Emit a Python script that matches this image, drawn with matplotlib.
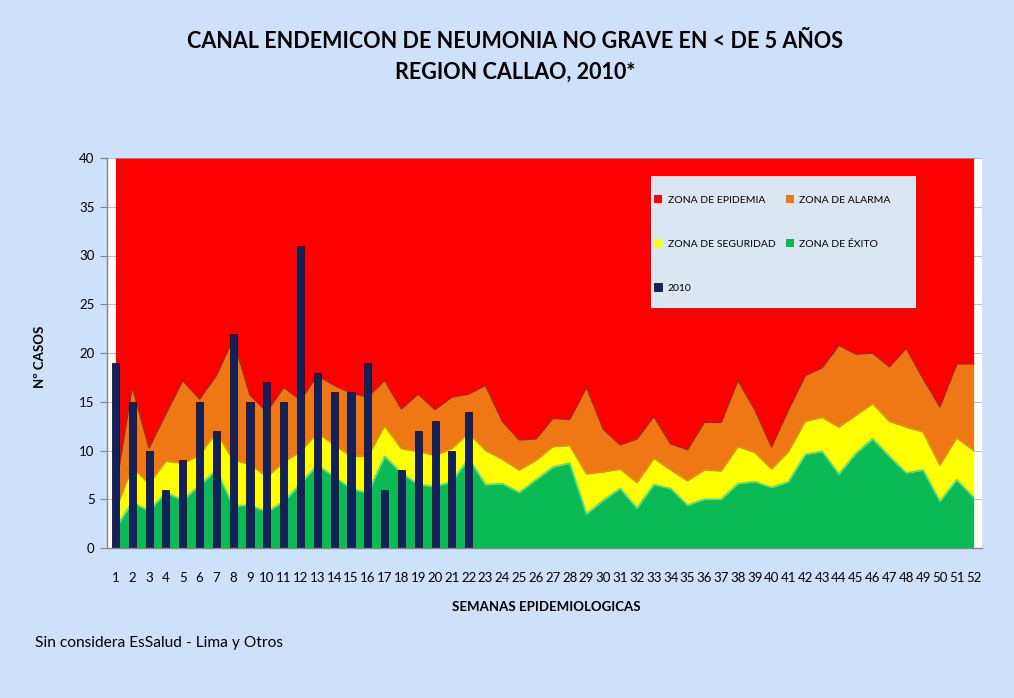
import numpy as np
import matplotlib
matplotlib.use('Agg')
import matplotlib.pyplot as plt
from matplotlib.patches import Rectangle

plt.rcParams['font.family'] = ['Lato', 'DejaVu Sans']

# semanas epidemiologicas
weeks = np.arange(1, 53)

# limites superiores de cada zona (acumulados)
exito = [2.0, 4.7, 3.8, 5.7, 4.9, 6.4, 8.0, 4.3, 4.4, 3.7, 4.75, 6.6, 8.5, 7.3, 6.1, 5.6, 9.4, 7.7,
         6.5, 6.3, 6.8, 9.2, 6.5, 6.6, 5.7, 7.0, 8.3, 8.7, 3.5, 4.9, 6.1, 4.1, 6.5, 6.1, 4.4, 5.0,
         5.0, 6.6, 6.8, 6.2, 6.8, 9.6, 9.9, 7.6, 9.7, 11.2, 9.4, 7.7, 8.0, 4.8, 7.0, 5.2]
seguridad = [3.8, 8.3, 6.6, 8.9, 8.7, 9.5, 11.9, 9.0, 8.6, 7.3, 8.8, 9.9, 11.8, 10.6, 9.4, 9.4, 12.5,
             10.2, 9.9, 9.5, 10.2, 11.8, 10.0, 9.1, 8.0, 9.0, 10.4, 10.5, 7.6, 7.8, 8.1, 6.7, 9.2,
             8.0, 6.9, 8.0, 7.9, 10.4, 9.8, 8.1, 9.9, 13.0, 13.4, 12.4, 13.6, 14.8, 13.0, 12.4,
             11.9, 8.5, 11.3, 10.0]
alarma = [6.0, 16.6, 10.3, 13.8, 17.2, 15.3, 17.7, 21.5, 15.7, 14.0, 16.5, 15.2, 17.7, 16.7, 15.9,
          15.5, 17.2, 14.3, 15.8, 14.2, 15.5, 15.8, 16.7, 13.0, 11.1, 11.2, 13.3, 13.2, 16.5, 12.2,
          10.6, 11.2, 13.5, 10.7, 10.1, 12.9, 12.9, 17.2, 14.2, 10.4, 14.2, 17.7, 18.5, 20.8, 19.9,
          20.0, 18.6, 20.5, 17.4, 14.5, 18.9, 18.9]
epidemia_top = 40

# casos 2010 (semanas 1 a 22)
casos_2010 = [19, 15, 10, 6, 9, 15, 12, 22, 15, 17, 15, 31, 18, 16, 16, 19, 6, 8, 12, 13, 10, 14]

bg = '#cde1fa'
fig = plt.figure(figsize=(10.14, 6.98), dpi=100, facecolor=bg)
ax = fig.add_axes([107/1014, 1-548/698, (982-107)/1014, (548-158)/698])
ax.set_facecolor('white')

ax.set_axisbelow(True)
ax.yaxis.grid(True, color='#bfbfbf', lw=0.8, zorder=0)

ax.fill_between(weeks, 0, exito, color='#0bba55', lw=0, zorder=2, label='ZONA DE ÉXITO')
ax.fill_between(weeks, exito, seguridad, color='#ffff00', lw=0, zorder=2, label='ZONA DE SEGURIDAD')
ax.fill_between(weeks, seguridad, alarma, color='#f07814', lw=0, zorder=2, label='ZONA DE ALARMA')
ax.fill_between(weeks, alarma, epidemia_top, color='#fe0000', lw=0, zorder=2, label='ZONA DE EPIDEMIA')

# bordes tipo bisel
ax.plot(weeks, exito, color='#45e39a', lw=1.3, zorder=3)
ax.plot(weeks, seguridad, color='#c9a000', lw=1.2, zorder=3)
ax.plot(weeks, alarma, color='#a8280a', lw=1.2, zorder=3)

ax.bar(weeks[:len(casos_2010)], casos_2010, width=0.42, color='#13215b',
       edgecolor='#0a1440', lw=0.6, zorder=4, label='2010')

ax.set_xlim(0.5, 52.5)
ax.set_ylim(0, 40)
ax.set_yticks(range(0, 41, 5))
ax.set_xticks(weeks)
ax.set_xticklabels([str(w) for w in weeks])
ax.tick_params(axis='x', length=0, pad=17, labelsize=9.5)
ax.tick_params(axis='y', length=5, width=0.8, color='#868686', pad=4, labelsize=9.5)
for s in ['top', 'right']:
    ax.spines[s].set_visible(False)
for s in ['left', 'bottom']:
    ax.spines[s].set_color('#868686')
    ax.spines[s].set_linewidth(1.0)
    ax.spines[s].set_zorder(5)

# caja de leyenda
ax.add_patch(Rectangle((651/1014, 1-308/698), 265/1014, 132/698, transform=fig.transFigure,
                       facecolor='#dce6f2', edgecolor='none', zorder=5, clip_on=False))
h, l = ax.get_legend_handles_labels()
d = dict(zip(l, h))
order = ['ZONA DE EPIDEMIA', 'ZONA DE SEGURIDAD', '2010', 'ZONA DE ALARMA', 'ZONA DE ÉXITO']
leg = ax.legend([d[o] for o in order], order, loc='upper left', ncol=2,
                bbox_to_anchor=(654/1014, 1-195/698), bbox_transform=fig.transFigure,
                frameon=False, fontsize=7.5, handlelength=0.8, handleheight=0.8,
                handletextpad=0.5, columnspacing=1.0, labelspacing=3.3, borderpad=0,
                borderaxespad=0)
leg.set_zorder(6)

fig.text(515/1014, 1-42/698, 'CANAL ENDEMICON DE NEUMONIA NO GRAVE EN < DE 5 AÑOS',
         ha='center', va='center', fontsize=15.5, fontweight='bold')
fig.text(515/1014, 1-72/698, 'REGION CALLAO, 2010*',
         ha='center', va='center', fontsize=15.5, fontweight='bold')
fig.text(40/1014, 1-357/698, 'Nº CASOS', rotation=90, ha='center', va='center',
         fontsize=9.5, fontweight='bold')
fig.text(546/1014, 1-607/698, 'SEMANAS EPIDEMIOLOGICAS', ha='center', va='center',
         fontsize=9.5, fontweight='bold')
fig.text(35/1014, 1-643/698, 'Sin considera EsSalud - Lima y Otros', ha='left', va='center',
         fontsize=11.2)

fig.savefig('out.png', dpi=100, facecolor=bg)
